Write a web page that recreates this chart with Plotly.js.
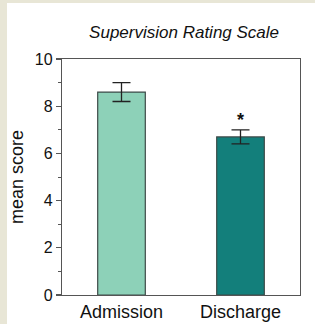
<!DOCTYPE html>
<html><head><meta charset="utf-8">
<script src="https://cdn.plot.ly/plotly-3.0.1.min.js"></script>
<style>
html,body{margin:0;padding:0;background:#e8e6d6;width:315px;height:324px;overflow:hidden;}
#chart{position:absolute;left:7px;top:3px;width:308px;height:321px;background:#fff;}
</style></head>
<body><div id="chart"></div>
<script>
const categories = ['Admission', 'Discharge'];
const meanScores = [8.6, 6.7];
const errors = [0.4, 0.3];
const barColors = ['#8dd1b8', '#137f7b'];
const markerLabel = '*';
const markerY = 7.4;

const trace = {
  type: 'bar',
  x: categories,
  y: meanScores,
  width: 0.4,
  marker: {color: barColors, line: {color: '#3d4a48', width: 1.2}},
  error_y: {type: 'data', array: errors, visible: true, color: '#222', thickness: 1.3, width: 9},
  hoverinfo: 'none'
};

const layout = {
  width: 308, height: 321,
  margin: {l: 55, r: 15, t: 56, b: 29},
  paper_bgcolor: '#fff', plot_bgcolor: '#fff',
  showlegend: false,
  font: {family: 'Liberation Sans, Arial, sans-serif', color: '#111', size: 16},
  title: {text: '<i>Supervision Rating Scale</i>', x: 0.575, xanchor: 'center', y: 0.91, yanchor: 'middle',
          font: {size: 17, family: 'Liberation Sans, Arial, sans-serif', color: '#111'}},
  xaxis: {showline: true, mirror: true, linecolor: '#555', linewidth: 1.2, ticks: '',
          tickfont: {size: 18}, showgrid: false, zeroline: false, fixedrange: true},
  yaxis: {range: [0, 10], dtick: 2, showline: true, mirror: true, linecolor: '#555', linewidth: 1.2,
          ticks: 'outside', ticklen: 5, tickcolor: '#555', tickwidth: 1.2,
          minor: {dtick: 1, ticks: 'outside', ticklen: 3, tickcolor: '#555', tickwidth: 1},
          showgrid: false, zeroline: false, tickfont: {size: 16},
          title: {text: 'mean score', font: {size: 18}, standoff: 7}},
  annotations: [{x: categories[1], y: markerY, xref: 'x', yref: 'y', text: '<b>' + markerLabel + '</b>',
                 showarrow: false, font: {size: 18, color: '#111'}}]
};

Plotly.newPlot('chart', [trace], layout, {staticPlot: true, displayModeBar: false});
</script></body></html>
